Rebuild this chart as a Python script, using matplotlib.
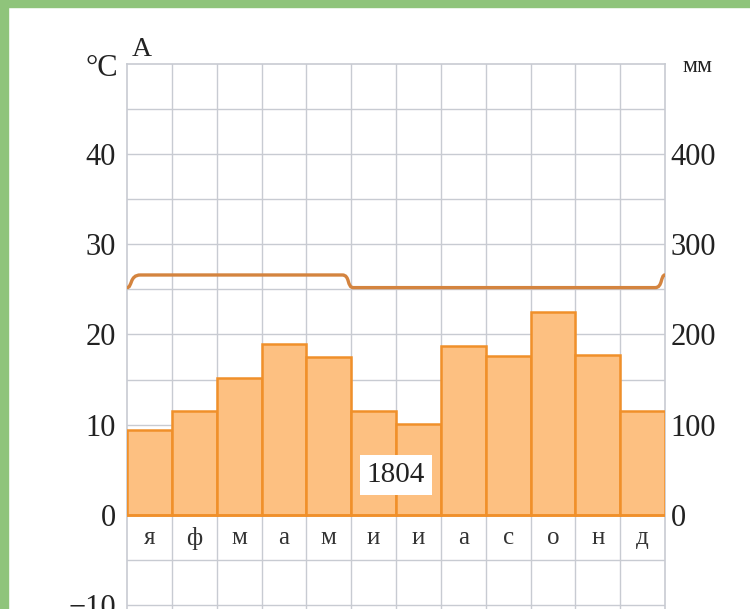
import matplotlib
matplotlib.use("Agg")
import matplotlib.pyplot as plt
from matplotlib.path import Path
from matplotlib.patches import PathPatch, Rectangle

months = ["я", "ф", "м", "а", "м", "и", "и", "а", "с", "о", "н", "д"]
precip_mm = [94, 115, 152, 189, 175, 115, 101, 187, 176, 225, 177, 115]
temp_c = [26.6, 26.6, 26.6, 26.6, 26.6, 25.2, 25.2, 25.2, 25.2, 25.2, 25.2, 25.2]
total_label = "1804"
temp_ticks = [40, 30, 20, 10, 0, -10]
precip_ticks = [400, 300, 200, 100, 0]

W, H = 750, 609
plt.rcParams['font.family'] = ['Liberation Serif', 'DejaVu Serif']
fig = plt.figure(figsize=(W / 100, H / 100), dpi=100)
fig.patch.set_facecolor('white')

# green frame
green = '#8fc47b'
fig.patches.append(Rectangle((0, 0), 8 / W, 1, transform=fig.transFigure, color=green, zorder=0))
fig.patches.append(Rectangle((0, 1 - 7 / H), 1, 7 / H, transform=fig.transFigure, color=green, zorder=0))

left, right, top, bottom = 127, 665, 64, 609
ax = fig.add_axes([left / W, 1 - bottom / H, (right - left) / W, (bottom - top) / H])
ymin = -10 - 4 / 9
ax.set_xlim(0, 12)
ax.set_ylim(ymin, 50)
ax.set_facecolor('white')

grid_c = '#c8cbd2'
for y in range(-10, 50, 5):
    ax.axhline(y, color=grid_c, lw=1.0, zorder=1)
for x in range(1, 12):
    ax.axvline(x, color=grid_c, lw=1.0, zorder=1)

for s in ['left', 'right', 'top']:
    ax.spines[s].set_color(grid_c)
    ax.spines[s].set_linewidth(1.2)
ax.spines['bottom'].set_visible(False)
ax.set_xticks([])
ax.set_yticks(temp_ticks)
ax.set_yticklabels([str(t).replace('-', '\u2212') for t in temp_ticks], fontsize=22, color='#222222')
ax.tick_params(axis='y', length=0, pad=8)

ax2 = ax.twinx()
ax2.set_ylim(ymin * 10, 500)
ax2.set_yticks(precip_ticks)
ax2.set_yticklabels([str(t) for t in precip_ticks], fontsize=22, color='#222222')
ax2.tick_params(axis='y', length=0, pad=4)
for s in ax2.spines.values():
    s.set_visible(False)

xs = [i + 0.5 for i in range(12)]
ax2.bar(xs, precip_mm, width=1.0, color='#fdc081', edgecolor='#f0902a', linewidth=1.8, zorder=2)
ax2.axhline(0, color='#f0902a', lw=1.8, zorder=3)

# temperature curve with rounded steps
tr = ax.transData
verts = [(0, temp_c[-1])]
codes = [Path.MOVETO]
# left edge transition
verts += [(0.12, temp_c[-1]), (0.05, temp_c[0]), (0.3, temp_c[0])]
codes += [Path.CURVE4] * 3
for i in range(1, 12):
    a, b = temp_c[i - 1], temp_c[i]
    if a == b:
        continue
    verts += [(i - 0.2, a)]
    codes += [Path.LINETO]
    verts += [(i - 0.02, a), (i - 0.1, b), (i + 0.05, b)]
    codes += [Path.CURVE4] * 3
verts += [(11.78, temp_c[-1])]
codes += [Path.LINETO]
verts += [(11.95, temp_c[-1]), (11.9, temp_c[0]), (12.0, temp_c[0])]
codes += [Path.CURVE4] * 3
patch = PathPatch(Path(verts, codes), facecolor='none', edgecolor='#d4843f', lw=2.4,
                  transform=tr, zorder=5, capstyle='round')
ax2.add_patch(patch)

for i, m in enumerate(months):
    ax2.text(i + 0.5, -2.6, m, transform=tr, ha='center', va='center', fontsize=18,
             color='#333333', zorder=6)

ax2.text(6, 4.4, total_label, transform=tr, ha='center', va='center', fontsize=21,
         color='#222222', zorder=7,
         bbox=dict(boxstyle='square,pad=0.25', facecolor='white', edgecolor='none'))

fig.text(102 / W, 1 - 68 / H, '°C', ha='center', va='center', fontsize=22, color='#222222')
fig.text(142 / W, 1 - 50 / H, 'A', ha='center', va='center', fontsize=20, color='#222222')
fig.text(697 / W, 1 - 67 / H, 'мм', ha='center', va='center', fontsize=17, color='#222222')

fig.savefig('out.png', dpi=100, facecolor='white')
